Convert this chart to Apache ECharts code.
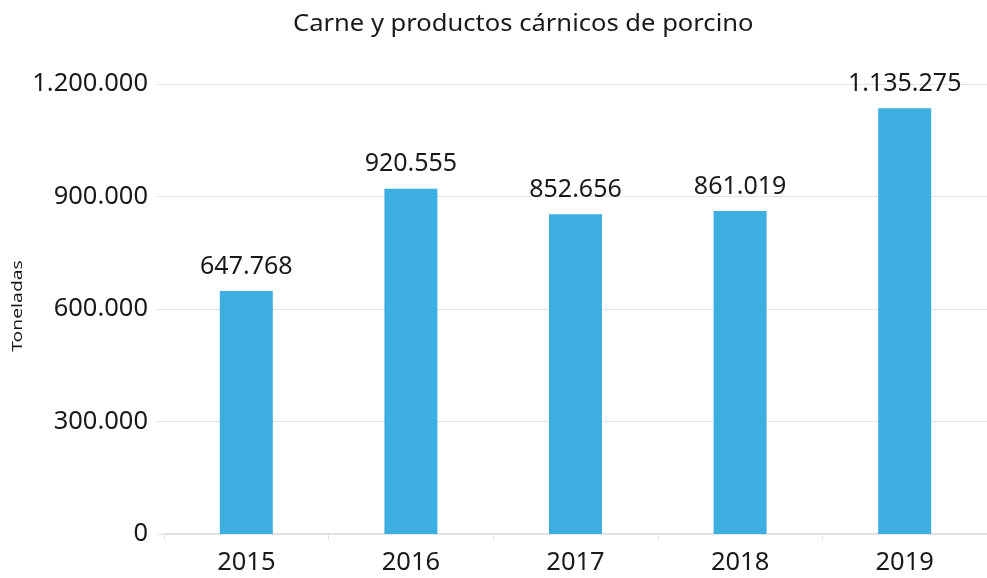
<!DOCTYPE html>
<html>
<head>
<meta charset="utf-8">
<script src="https://cdn.jsdelivr.net/npm/echarts@6/dist/echarts.min.js"></script>
<style>
  html, body { margin: 0; padding: 0; background: #ffffff; }
  #chart { width: 987px; height: 578px; }
</style>
</head>
<body>
<div id="chart"></div>
<script>
// Pork meat and meat products, tonnes per year
var years = ['2015', '2016', '2017', '2018', '2019'];
var tonnes = [647768, 920555, 852656, 861019, 1135275];
var yTicks = { min: 0, max: 1200000, interval: 300000 };
var titleText = 'Carne y productos cárnicos de porcino';
var yAxisTitle = 'Toneladas';

// Spanish-style thousands separator (dot)
function fmt(v) {
  return String(Math.round(v)).replace(/\B(?=(\d{3})+(?!\d))/g, '.');
}

var FONT = '"Noto Sans", "Open Sans", sans-serif';
var INK = '#1a1a1a';
var RULE = '#e3e3e3';
var chart = echarts.init(document.getElementById('chart'), null, { renderer: 'canvas' });

chart.setOption({
  animation: false,
  backgroundColor: '#ffffff',
  // Title and axis caption are drawn as slightly wide-set text elements
  graphic: [
    {
      type: 'text',
      x: 293, y: 12,
      scaleX: 1.065,
      style: {
        text: titleText,
        fontFamily: FONT, fontSize: 24, fill: INK,
        textAlign: 'left', textVerticalAlign: 'top',
        align: 'left', verticalAlign: 'top'
      }
    },
    {
      type: 'text',
      x: 18.5, y: 306,
      rotation: Math.PI / 2,
      scaleX: 1.38,
      style: {
        text: yAxisTitle,
        fontFamily: FONT, fontSize: 14, fill: INK,
        textAlign: 'center', textVerticalAlign: 'middle',
        align: 'center', verticalAlign: 'middle'
      }
    }
  ],
  grid: { left: 164, right: -6, top: 84, bottom: 44, containLabel: false },
  xAxis: {
    type: 'category',
    data: years,
    axisLine: { show: true, lineStyle: { color: RULE, width: 2 } },
    axisTick: { show: true, length: 6, lineStyle: { color: RULE } },
    axisLabel: { fontFamily: FONT, fontSize: 25.5, color: INK, margin: 16 }
  },
  yAxis: {
    type: 'value',
    min: yTicks.min,
    max: yTicks.max,
    interval: yTicks.interval,
    axisLine: { show: false },
    axisTick: { show: true, length: 7, lineStyle: { color: RULE } },
    splitLine: { show: true, lineStyle: { color: RULE, width: 1 } },
    axisLabel: {
      fontFamily: FONT, fontSize: 25.5, color: INK, margin: 16,
      padding: [0, 0, 6, 0],
      formatter: function (v) { return fmt(v); }
    }
  },
  series: [{
    type: 'bar',
    data: tonnes,
    barWidth: 53,
    itemStyle: { color: '#3daee0' },
    label: {
      show: true,
      position: 'top',
      distance: 12,
      fontFamily: FONT,
      fontSize: 25,
      color: INK,
      formatter: function (p) { return fmt(p.value); }
    }
  }]
});
</script>
</body>
</html>
